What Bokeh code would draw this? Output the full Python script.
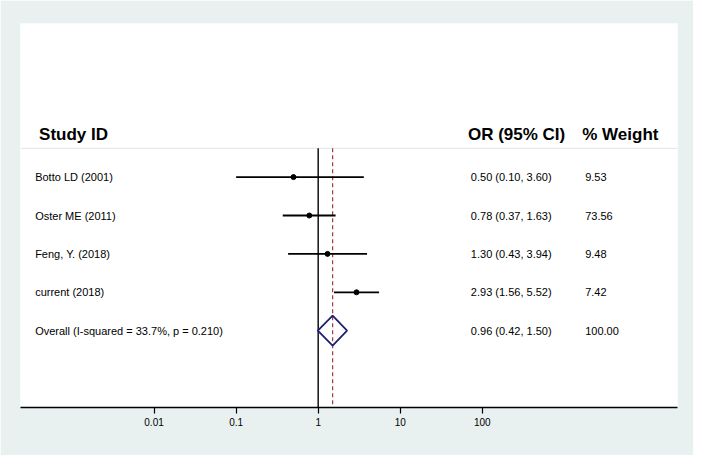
from bokeh.plotting import figure
from bokeh.models import Range1d, FixedTicker, ColumnDataSource
from bokeh.core.properties import value
from bokeh.embed import file_html
from bokeh.resources import INLINE

# ---------------- data ----------------
studies = ["Botto LD (2001)", "Oster ME (2011)", "Feng, Y. (2018)", "current (2018)"]
or_est = [0.50, 0.78, 1.30, 2.93]
ci_low = [0.10, 0.37, 0.43, 1.56]
ci_high = [3.60, 1.63, 3.94, 5.52]
weights = ["9.53", "73.56", "9.48", "7.42"]
or_text = ["0.50 (0.10, 3.60)", "0.78 (0.37, 1.63)", "1.30 (0.43, 3.94)", "2.93 (1.56, 5.52)"]

overall_label = "Overall  (I-squared = 33.7%, p = 0.210)"
overall_text = "0.96 (0.42, 1.50)"
overall_weight = "100.00"
# diamond as drawn in the figure (low, centre, high)
diamond_drawn = [0.99, 1.50, 2.25]
ref_line = 1.50

tick_values = [0.01, 0.1, 1, 10, 100]
tick_labels = ["0.01", "0.1", "1", "10", "100"]

# ---------------- layout helpers ----------------
X1PX, DEC = 324.7, 84.0      # reference pixel of OR=1, pixels per decade
def xpos(px):
    return 10 ** ((px - X1PX) / DEC)

FONT = "Liberation Sans"
BG = "#e8f0f0"

p = figure(output_backend="svg", toolbar_location=None,
           x_axis_type="log",
           frame_width=657, frame_height=384,
           min_border_left=20, min_border_right=16,
           min_border_top=23, min_border_bottom=48,
           x_range=Range1d(xpos(20), xpos(692.5)),
           y_range=Range1d(-1, 9))
p.background_fill_color = "white"
p.border_fill_color = BG
p.outline_line_color = None
p.grid.visible = False
p.yaxis.visible = False

ax = p.xaxis[0]
ax.ticker = FixedTicker(ticks=tick_values)
ax.major_label_overrides = {v: l for v, l in zip(tick_values, tick_labels)}
ax.minor_tick_line_color = None
ax.axis_line_color = "black"
ax.axis_line_width = 1.6
ax.major_tick_line_color = "black"
ax.major_tick_line_width = 1.2
ax.major_tick_in = 0
ax.major_tick_out = 6
ax.major_label_standoff = 4
ax.major_label_text_font = FONT
ax.major_label_text_font_size = "10px"
ax.major_label_text_color = "black"

n = len(studies)
ys = [n + 1 - i for i in range(n)]  # 5,4,3,2
y_overall = 1

# faint separator under header
p.segment(x0=[xpos(20)], y0=[5.75], x1=[xpos(692.5)], y1=[5.75], line_color="#e2e3e8", line_width=1)

# null line at 1
p.segment(x0=[1], y0=[5.75], x1=[1], y1=[-1], line_color="black", line_width=1.4)
# dashed overall line
p.segment(x0=[ref_line], y0=[5.75], x1=[ref_line], y1=[-1], line_color="#a33a45",
          line_width=1.2, line_dash="4 3")

src = ColumnDataSource(dict(y=ys, est=or_est, lo=ci_low, hi=ci_high,
                            name=studies, ort=or_text, w=weights))
p.segment(x0="lo", y0="y", x1="hi", y1="y", source=src, line_color="black", line_width=1.8)
p.scatter(x="est", y="y", source=src, size=5, color="black")

# diamond
h = 0.39
p.patch(x=[diamond_drawn[0], diamond_drawn[1], diamond_drawn[2], diamond_drawn[1]],
        y=[y_overall, y_overall + h, y_overall, y_overall - h],
        fill_color=None, line_color="#1e2070", line_width=1.8)

# texts
tstyle = dict(text_font=value(FONT), text_font_size="11px", text_color="black",
              text_baseline="middle", text_align="left")
p.text(x=xpos(35), y="y", text="name", source=src, **tstyle)
p.text(x=xpos(481), y="y", text="ort", source=src, **tstyle)
p.text(x=xpos(598), y="y", text="w", source=src, **tstyle)
p.text(x=[xpos(35)], y=[y_overall], text=[overall_label], **tstyle)
p.text(x=[xpos(481)], y=[y_overall], text=[overall_text], **tstyle)
p.text(x=[xpos(598)], y=[y_overall], text=[overall_weight], **tstyle)

hstyle = dict(text_font=value(FONT), text_font_size="17px", text_font_style="bold",
              text_color="black", text_baseline="middle", text_align="left")
y_head = 6.1
p.text(x=[xpos(39)], y=[y_head], text=["Study ID"], **hstyle)
p.text(x=[xpos(478)], y=[y_head], text=["OR (95% CI)"], **hstyle)
p.text(x=[xpos(595)], y=[y_head], text=["% Weight"], **hstyle)

html = file_html(p, INLINE)
html = html.replace("<body>", '<body style="background:%s">' % BG, 1)
open("out.html", "w").write(html)
